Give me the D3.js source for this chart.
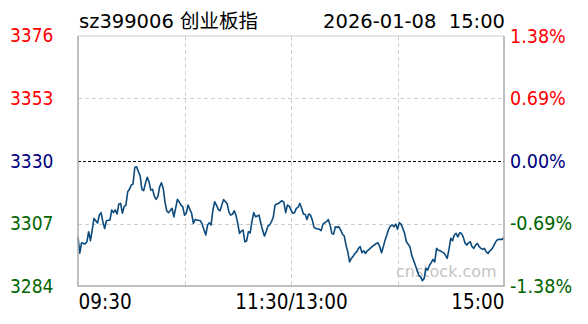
<!DOCTYPE html>
<html><head><meta charset="utf-8">
<script src="https://cdn.jsdelivr.net/npm/d3@7"></script>
<style>
html,body{margin:0;padding:0;background:#fff;}
svg{display:block;}
text{font-family:"DejaVu Sans Condensed","DejaVu Sans","Noto Sans CJK SC",sans-serif;}
</style></head>
<body><svg id="chart" width="588" height="324"></svg>
<script>
const titleLeft = "sz399006 创业板指";
const titleRight = "2026-01-08  15:00";
const watermark = "cnstock.com";
const preClose = 3330;
const rangePct = 1.38;
const leftTicks = [3376, 3353, 3330, 3307, 3284];
const leftLabels = ["3376", "3353", "3330", "3307", "3284"];
const rightLabels = ["1.38%", "0.69%", "0.00%", "-0.69%", "-1.38%"];
const timeTicks = [0, 120, 240];
const timeLabels = ["09:30", "11:30/13:00", "15:00"];
const minutes = [0,1,2,4,5,6,7,8,9,11,12,13,14,15,16,18,19,20,21,22,23,24,25,26,27,28,29,30,31,32,33,34,35,36,37,38,39,40,41,42,43,44,45,46,47,48,49,50,51,53,54,55,56,57,58,59,60,61,62,63,64,65,66,67,69,70,71,72,73,74,75,76,77,78,79,80,82,84,85,86,87,88,89,90,91,92,93,94,95,96,97,98,99,100,101,102,103,104,105,106,107,108,109,110,111,112,113,114,115,116,117,118,119,120,121,122,123,124,125,126,127,128,129,130,131,132,133,134,136,137,138,139,140,141,142,143,144,145,146,147,148,149,150,151,152,153,154,155,156,157,158,159,160,161,162,163,164,166,167,168,169,170,171,172,173,174,175,176,177,178,179,180,181,182,183,184,185,187,188,189,191,192,193,194,195,196,197,198,199,200,201,202,203,204,205,206,207,208,209,210,211,212,213,214,215,216,217,218,219,220,221,222,223,224,225,226,227,228,229,230,231,232,233,234,235,236,237,238,239,240];
const prices = [3302.1,3296.1,3299.9,3299.5,3300.3,3304.0,3300.7,3304.6,3308.9,3307.2,3310.1,3311.0,3307.7,3305.2,3308.0,3308.3,3312.0,3311.0,3312.0,3310.5,3314.2,3314.4,3310.8,3313.2,3313.8,3318.7,3319.6,3321.2,3321.5,3327.7,3327.9,3326.1,3324.5,3319.6,3319.1,3321.8,3324.0,3322.4,3319.3,3319.6,3317.1,3315.9,3316.9,3320.5,3322.0,3320.0,3315.0,3311.7,3311.0,3312.6,3309.5,3312.6,3315.9,3315.0,3313.8,3313.2,3310.1,3310.8,3313.8,3312.2,3310.8,3307.1,3308.5,3308.3,3308.0,3306.8,3304.6,3302.8,3306.5,3307.3,3306.5,3312.0,3315.0,3313.8,3312.2,3311.7,3315.8,3314.4,3311.3,3310.1,3310.4,3311.7,3310.1,3307.1,3303.4,3304.2,3304.6,3300.3,3300.6,3304.0,3303.6,3307.7,3311.0,3309.5,3309.8,3310.1,3307.1,3304.6,3302.4,3304.0,3306.1,3306.5,3307.7,3309.3,3313.8,3314.2,3314.4,3315.0,3315.4,3314.8,3311.0,3313.8,3313.4,3312.0,3310.8,3311.0,3312.6,3313.0,3314.4,3312.6,3310.5,3310.4,3308.5,3310.5,3310.1,3308.3,3305.6,3305.2,3304.9,3304.4,3306.8,3307.3,3307.7,3308.5,3306.5,3303.4,3303.1,3305.8,3305.6,3305.8,3304.6,3303.1,3302.4,3299.1,3296.6,3292.9,3294.2,3295.0,3296.0,3296.6,3297.9,3298.5,3296.3,3297.0,3296.0,3297.0,3297.5,3298.7,3299.1,3299.7,3299.9,3298.5,3296.3,3298.5,3300.9,3302.8,3304.9,3306.1,3306.5,3305.8,3306.8,3304.9,3307.3,3306.8,3305.2,3303.4,3300.3,3298.5,3295.4,3293.6,3289.9,3288.0,3287.4,3286.0,3286.8,3290.5,3289.9,3291.7,3292.6,3293.8,3292.9,3297.9,3297.2,3297.0,3296.6,3296.3,3295.4,3294.2,3297.5,3301.6,3300.7,3302.8,3303.4,3302.1,3303.6,3303.4,3302.1,3299.9,3299.1,3299.9,3300.3,3298.5,3297.9,3299.1,3299.7,3298.5,3297.9,3297.5,3297.9,3296.6,3296.0,3297.0,3297.5,3298.5,3299.9,3300.9,3301.2,3301.2,3301.2,3301.9];

const tickColors = ["#ff0000", "#ff0000", "#000080", "#006400", "#006400"];

const L = 78, R = 504, T = 36, B = 286;
const svg = d3.select("#chart");
const x = d3.scaleLinear().domain([0, 240]).range([L, R]);
const y = d3.scaleLinear()
  .domain([preClose * (1 - rangePct / 100), preClose * (1 + rangePct / 100)])
  .range([B, T]);

// grid
const g = svg.append("g");
[1, 3].forEach(i => {
  const v = leftTicks[i];
  g.append("line").attr("x1", L).attr("x2", R).attr("y1", Math.round(y(v)) + 0.5).attr("y2", Math.round(y(v)) + 0.5)
    .attr("stroke", "#cfcfcf").attr("stroke-dasharray", "4,3");
});
[60, 120, 180].forEach(m => {
  g.append("line").attr("y1", T).attr("y2", B).attr("x1", Math.round(x(m)) + 0.5).attr("x2", Math.round(x(m)) + 0.5)
    .attr("stroke", "#cfcfcf").attr("stroke-dasharray", "4,3");
});
g.append("line").attr("x1", L).attr("x2", R).attr("y1", Math.round(y(preClose)) + 0.5).attr("y2", Math.round(y(preClose)) + 0.5)
  .attr("stroke", "#000").attr("stroke-dasharray", "3,2");

// watermark
svg.append("text").attr("x", 396).attr("y", 277).attr("font-size", 16).attr("fill", "#c4c4c4")
  .style("font-family", "'DejaVu Sans', sans-serif").text(watermark);

// line
const line = d3.line().x((d, i) => x(minutes[i])).y(d => y(d));
svg.append("path").datum(prices).attr("d", line).attr("fill", "none")
  .attr("stroke", "#0b4a7c").attr("stroke-width", 1.6).attr("stroke-linejoin", "round");

// frame
svg.append("path").attr("d", `M${L},${T}V${B}H${R}V${T}`).attr("fill", "none")
  .attr("stroke", "#aaaaaa").attr("stroke-width", 1.5);
svg.append("line").attr("x1", L).attr("x2", R).attr("y1", T).attr("y2", T).attr("stroke", "#cccccc").attr("stroke-width", 1);

// left axis labels
const axL = d3.axisLeft(y).tickValues(leftTicks).tickSize(0).tickFormat((d, i) => leftLabels[i]);
const gl = svg.append("g").attr("transform", `translate(${L},0)`).call(axL);
gl.select(".domain").remove();
gl.selectAll("text").attr("x", 10 - L).attr("text-anchor", "start").attr("font-size", 19)
  .attr("fill", (d, i) => tickColors[i]);

// right axis labels
const axR = d3.axisRight(y).tickValues(leftTicks).tickSize(0).tickFormat((d, i) => rightLabels[i]);
const gr = svg.append("g").attr("transform", `translate(${R},0)`).call(axR);
gr.select(".domain").remove();
gr.selectAll("text").attr("x", 6).attr("text-anchor", "start").attr("font-size", 19.5)
  .attr("fill", (d, i) => tickColors[i]);

// bottom axis labels
const axB = d3.axisBottom(x).tickValues(timeTicks).tickSize(0).tickFormat((d, i) => timeLabels[i]);
const gb = svg.append("g").attr("transform", `translate(0,${B})`).call(axB);
gb.select(".domain").remove();
gb.selectAll("text").attr("y", 8).attr("font-size", 20.5).attr("fill", "#000")
  .attr("text-anchor", (d, i) => ["start", "middle", "end"][i]);
svg.selectAll(".tick text").style("font-family", "'DejaVu Sans Condensed','DejaVu Sans',sans-serif");

// titles
svg.append("text").attr("x", 79).attr("y", 28).attr("font-size", 19.5).attr("fill", "#000")
  .style("font-family", "'DejaVu Sans','Noto Sans CJK SC',sans-serif").text(titleLeft);
svg.append("text").attr("x", 505).attr("y", 28).attr("font-size", 19.5).attr("fill", "#000")
  .style("font-family", "'DejaVu Sans',sans-serif")
  .attr("text-anchor", "end").style("white-space", "pre").text(titleRight);
</script></body></html>
